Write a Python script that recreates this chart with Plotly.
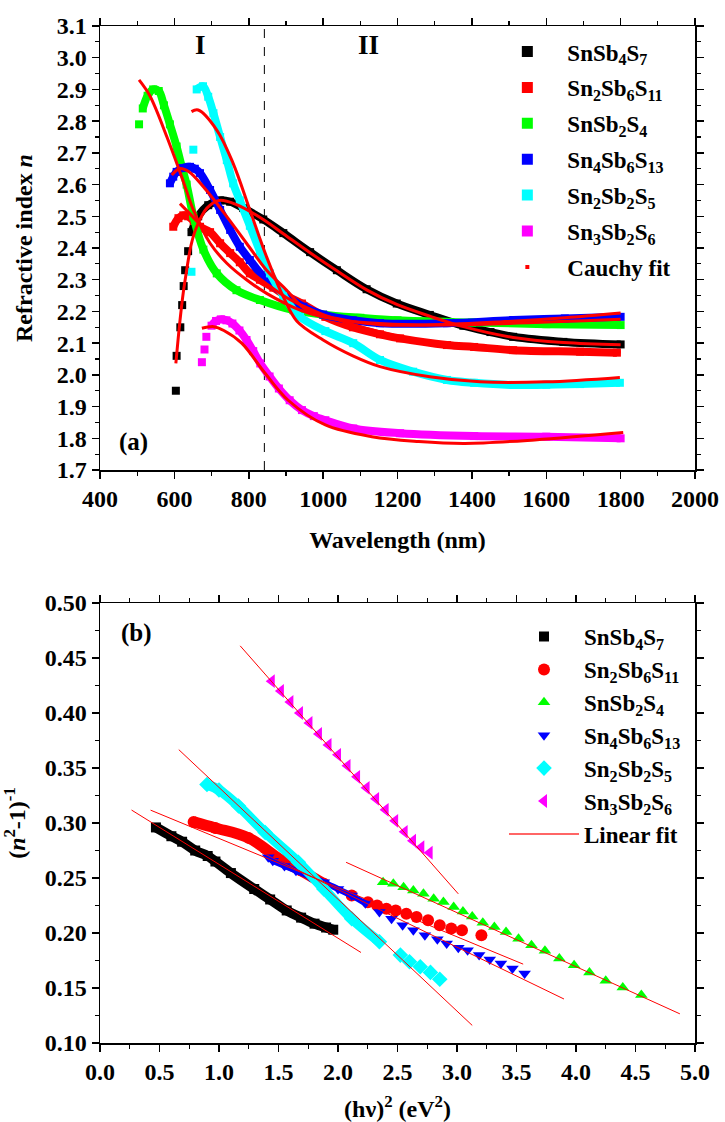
import plotly.graph_objects as go

FONT = "Liberation Serif"

# ---------------- panel (a): refractive index vs wavelength ----------------
NAMES = ["SnSb<sub>4</sub>S<sub>7</sub>",
         "Sn<sub>2</sub>Sb<sub>6</sub>S<sub>11</sub>",
         "SnSb<sub>2</sub>S<sub>4</sub>",
         "Sn<sub>4</sub>Sb<sub>6</sub>S<sub>13</sub>",
         "Sn<sub>2</sub>Sb<sub>2</sub>S<sub>5</sub>",
         "Sn<sub>3</sub>Sb<sub>2</sub>S<sub>6</sub>"]
COLORS = ["#000000", "#ff0000", "#00ff00", "#0000ff", "#00ffff", "#ff00ff"]

wl_k = [604, 606, 616, 621, 625, 629, 637, 646, 664, 691, 723, 750, 785, 839, 893, 965, 1037, 1117, 1198, 1287, 1377, 1450, 1511, 1646, 1800]
n_k = [1.95, 2.06, 2.15, 2.22, 2.28, 2.33, 2.39, 2.45, 2.50, 2.535, 2.55, 2.546, 2.526, 2.49, 2.447, 2.387, 2.33, 2.27, 2.225, 2.189, 2.155, 2.135, 2.12, 2.104, 2.096]
wl_k_fit = [604, 615, 624, 633, 645, 660, 687, 720, 767, 839, 893, 965, 1037, 1117, 1198, 1287, 1377, 1511, 1646, 1800]
n_k_fit = [2.036, 2.17, 2.26, 2.33, 2.41, 2.467, 2.525, 2.55, 2.537, 2.49, 2.445, 2.385, 2.328, 2.268, 2.222, 2.185, 2.152, 2.118, 2.102, 2.095]

wl_r = [597, 611, 624, 637, 652, 669, 696, 723, 750, 776, 803, 830, 866, 900, 943, 1006, 1080, 1153, 1207, 1333, 1406, 1511, 1691, 1790]
n_r = [2.467, 2.494, 2.503, 2.50, 2.485, 2.467, 2.45, 2.415, 2.384, 2.355, 2.32, 2.30, 2.275, 2.25, 2.225, 2.183, 2.15, 2.128, 2.115, 2.094, 2.088, 2.078, 2.073, 2.07]
wl_r_fit = [615, 640, 680, 720, 760, 800, 850, 900, 950, 1000, 1100, 1200, 1300, 1400, 1600, 1800]
n_r_fit = [2.54, 2.51, 2.46, 2.41, 2.37, 2.33, 2.285, 2.245, 2.215, 2.19, 2.152, 2.122, 2.10, 2.088, 2.077, 2.072]

wl_g = [505, 515, 528, 543, 558, 572, 588, 606, 620, 633, 651, 678, 714, 767, 830, 920, 1000, 1100, 1200, 1400, 1600, 1800]
n_g = [2.79, 2.84, 2.88, 2.90, 2.895, 2.85, 2.79, 2.72, 2.656, 2.60, 2.50, 2.395, 2.32, 2.267, 2.236, 2.204, 2.19, 2.18, 2.172, 2.165, 2.16, 2.157]
wl_g_fit = [505, 534, 580, 624, 651, 696, 741, 794, 848, 938, 1000, 1100, 1300, 1500, 1800]
n_g_fit = [2.93, 2.88, 2.75, 2.61, 2.52, 2.415, 2.352, 2.30, 2.257, 2.204, 2.182, 2.166, 2.157, 2.162, 2.175]

wl_b = [588, 597, 606, 620, 642, 655, 669, 696, 723, 750, 776, 803, 839, 893, 947, 1000, 1080, 1153, 1333, 1511, 1650, 1800]
n_b = [2.604, 2.625, 2.64, 2.652, 2.656, 2.65, 2.636, 2.583, 2.52, 2.457, 2.404, 2.362, 2.31, 2.257, 2.215, 2.19, 2.172, 2.163, 2.163, 2.173, 2.178, 2.183]
wl_b_fit = [593, 606, 615, 640, 678, 741, 794, 848, 902, 956, 1050, 1153, 1300, 1475, 1650, 1800]
n_b_fit = [2.63, 2.645, 2.651, 2.64, 2.593, 2.499, 2.415, 2.33, 2.267, 2.204, 2.175, 2.158, 2.158, 2.167, 2.18, 2.195]

wl_c = [646, 651, 660, 677, 691, 705, 723, 741, 758, 776, 803, 830, 857, 893, 938, 1006, 1081, 1153, 1242, 1333, 1406, 1511, 1600, 1691, 1798]
n_c = [2.325, 2.71, 2.90, 2.91, 2.877, 2.825, 2.75, 2.677, 2.604, 2.55, 2.47, 2.39, 2.32, 2.25, 2.183, 2.138, 2.10, 2.047, 2.01, 1.984, 1.975, 1.968, 1.969, 1.971, 1.975]
wl_c_fit = [646, 664, 714, 758, 803, 848, 893, 929, 1000, 1080, 1153, 1287, 1422, 1600, 1798]
n_c_fit = [2.83, 2.835, 2.772, 2.667, 2.52, 2.372, 2.246, 2.17, 2.11, 2.06, 2.026, 1.994, 1.978, 1.978, 1.992]

wl_m = [674, 681, 686, 700, 712, 725, 740, 756, 775, 794, 812, 831, 856, 881, 910, 943, 975, 1006, 1081, 1207, 1406, 1600, 1800]
n_m = [2.04, 2.08, 2.12, 2.155, 2.17, 2.175, 2.172, 2.162, 2.14, 2.11, 2.075, 2.036, 1.995, 1.957, 1.92, 1.889, 1.87, 1.857, 1.831, 1.816, 1.807, 1.805, 1.80]
wl_m_fit = [674, 706, 733, 781, 844, 906, 1006, 1131, 1257, 1381, 1569, 1807]
n_m_fit = [2.147, 2.152, 2.14, 2.10, 2.005, 1.92, 1.842, 1.805, 1.79, 1.784, 1.795, 1.818]

REGION_BOUNDARY_NM = 842

TICKS_WL = [400, 600, 800, 1000, 1200, 1400, 1600, 1800, 2000]
TICKS_N = [1.7, 1.8, 1.9, 2.0, 2.1, 2.2, 2.3, 2.4, 2.5, 2.6, 2.7, 2.8, 2.9, 3.0, 3.1]

# ---------------- panel (b): (n^2-1)^-1 vs (h nu)^2 ----------------
e2_k = [0.47, 0.60, 0.69, 0.80, 0.905, 0.97, 1.10, 1.296, 1.43, 1.569, 1.69, 1.803, 1.90, 1.96]
y_k = [0.296, 0.288, 0.283, 0.275, 0.270, 0.265, 0.2545, 0.240, 0.2305, 0.2205, 0.214, 0.2085, 0.205, 0.203]

e2_r = [0.787, 0.969, 1.248, 1.527, 1.686, 1.881, 2.115, 2.251, 2.329, 2.407, 2.485, 2.574, 2.660, 2.757, 2.855, 2.952, 3.042, 3.205]
y_r = [0.301, 0.2955, 0.2865, 0.266, 0.257, 0.2447, 0.234, 0.228, 0.225, 0.222, 0.2205, 0.2175, 0.2146, 0.2115, 0.207, 0.204, 0.2025, 0.198]

e2_g = [2.379, 2.465, 2.551, 2.633, 2.718, 2.804, 2.886, 2.972, 3.050, 3.128, 3.217, 3.314, 3.412, 3.517, 3.626, 3.739, 3.860, 3.984, 4.113, 4.250, 4.393, 4.549]
y_g = [0.2462, 0.2447, 0.2417, 0.2386, 0.2356, 0.2311, 0.2281, 0.2236, 0.2196, 0.2151, 0.2094, 0.2055, 0.2010, 0.1949, 0.1889, 0.1838, 0.1769, 0.1708, 0.1642, 0.1567, 0.1504, 0.1437]

e2_b = [1.414, 1.452, 1.55, 1.647, 1.76, 1.881, 2.0, 2.115, 2.23, 2.348, 2.45, 2.543, 2.633, 2.730, 2.835, 2.913, 3.011, 3.089, 3.186, 3.275, 3.369, 3.466, 3.568]
y_b = [0.2688, 0.2657, 0.261, 0.2567, 0.2515, 0.2462, 0.240, 0.234, 0.227, 0.2191, 0.213, 0.207, 0.2025, 0.198, 0.1943, 0.1904, 0.1865, 0.1844, 0.1799, 0.176, 0.1723, 0.1678, 0.1633]

e2_c = [0.899, 1.0, 1.164, 1.388, 1.667, 1.881, 2.115, 2.348, 2.524, 2.601, 2.691, 2.777, 2.855]
y_c = [0.335, 0.330, 0.3155, 0.2914, 0.2643, 0.240, 0.213, 0.192, 0.1799, 0.1739, 0.1693, 0.1642, 0.1579]

e2_m = [1.443, 1.52, 1.60, 1.68, 1.76, 1.84, 1.92, 2.00, 2.08, 2.16, 2.24, 2.32, 2.40, 2.48, 2.56, 2.63, 2.70, 2.77]
y_m = [0.429, 0.420, 0.410, 0.400, 0.391, 0.381, 0.371, 0.362, 0.352, 0.342, 0.332, 0.322, 0.312, 0.302, 0.292, 0.284, 0.278, 0.273]

# linear-fit line end points
fit_e2_k = [0.265, 2.193]; fit_y_k = [0.3118, 0.1823]
fit_e2_r = [0.425, 3.556]; fit_y_r = [0.3117, 0.1717]
fit_e2_g = [2.068, 4.873]; fit_y_g = [0.2643, 0.1265]
fit_e2_b = [1.35, 3.899]; fit_y_b = [0.2736, 0.140]
fit_e2_c = [0.662, 3.128]; fit_y_c = [0.3667, 0.116]
fit_e2_m = [1.178, 3.011]; fit_y_m = [0.4611, 0.2356]

TICKS_E2 = [0.0, 0.5, 1.0, 1.5, 2.0, 2.5, 3.0, 3.5, 4.0, 4.5, 5.0]
TICKS_Y2 = [0.10, 0.15, 0.20, 0.25, 0.30, 0.35, 0.40, 0.45, 0.50]

fig = go.Figure()

# ---- panel (a) data bands ----
series_a = [(wl_k, n_k, 7), (wl_r, n_r, 0), (wl_g, n_g, 1), (wl_b, n_b, 0), (wl_c, n_c, 2), (wl_m, n_m, 3)]
for (x, y, dense), col in zip(series_a, COLORS):
    fig.add_trace(go.Scatter(x=x[dense:], y=y[dense:], mode="lines", line=dict(color=col, width=8, shape="spline"),
                             showlegend=False, hoverinfo="skip", xaxis="x", yaxis="y"))
    fig.add_trace(go.Scatter(x=x, y=y, mode="markers", marker=dict(symbol="square", size=8, color=col),
                             showlegend=False, xaxis="x", yaxis="y"))
fits_a = [(wl_k_fit, n_k_fit), (wl_r_fit, n_r_fit), (wl_g_fit, n_g_fit), (wl_b_fit, n_b_fit), (wl_c_fit, n_c_fit), (wl_m_fit, n_m_fit)]
for x, y in fits_a:
    fig.add_trace(go.Scatter(x=x, y=y, mode="lines", line=dict(color="#ff0000", width=3, shape="spline"),
                             showlegend=False, xaxis="x", yaxis="y"))

# ---- panel (b) data ----
SYMBOLS_B = ["square", "circle", "triangle-up", "triangle-down", "diamond", "triangle-left"]
SIZES_B = [10, 12, 11, 11, 12, 12]
series_b = [(e2_k, y_k, 14, 10), (e2_r, y_r, 6, 11), (e2_g, y_g, 0, 0), (e2_b, y_b, 9, 6), (e2_c, y_c, 8, 10), (e2_m, y_m, 0, 0)]
for (x, y, dense, lw), col, sym, sz in zip(series_b, COLORS, SYMBOLS_B, SIZES_B):
    if dense > 1:
        fig.add_trace(go.Scatter(x=x[:dense], y=y[:dense], mode="lines", line=dict(color=col, width=lw, shape="spline"),
                                 showlegend=False, hoverinfo="skip", xaxis="x2", yaxis="y2"))
    fig.add_trace(go.Scatter(x=x, y=y, mode="markers", marker=dict(symbol=sym, size=sz, color=col),
                             showlegend=False, xaxis="x2", yaxis="y2"))
fits_b = [(fit_e2_k, fit_y_k), (fit_e2_r, fit_y_r), (fit_e2_g, fit_y_g), (fit_e2_b, fit_y_b), (fit_e2_c, fit_y_c), (fit_e2_m, fit_y_m)]
for x, y in fits_b:
    fig.add_trace(go.Scatter(x=x, y=y, mode="lines", line=dict(color="#ff0000", width=1),
                             showlegend=False, xaxis="x2", yaxis="y2"))

# ---- legend entries ----
for i, (nm, col) in enumerate(zip(NAMES, COLORS)):
    fig.add_trace(go.Scatter(x=[None], y=[None], mode="markers", name=nm,
                             marker=dict(symbol="square", size=11, color=col),
                             legend="legend", legendgroup="a%d" % i, xaxis="x", yaxis="y"))
fig.add_trace(go.Scatter(x=[None], y=[None], mode="markers", name="Cauchy fit",
                         marker=dict(symbol="square", size=4, color="#ff0000"),
                         legend="legend", legendgroup="a6", xaxis="x", yaxis="y"))
for i, (nm, col, sym, sz) in enumerate(zip(NAMES, COLORS, SYMBOLS_B, SIZES_B)):
    fig.add_trace(go.Scatter(x=[None], y=[None], mode="markers", name=nm,
                             marker=dict(symbol=sym, size=sz, color=col),
                             legend="legend2", legendgroup="b%d" % i, xaxis="x2", yaxis="y2"))
fig.add_trace(go.Scatter(x=[None], y=[None], mode="lines", name="Linear fit",
                         line=dict(color="#ff6666", width=2),
                         legend="legend2", legendgroup="b6", xaxis="x2", yaxis="y2"))


def bold(vals, fmt):
    return ["<b>" + fmt.format(v) + "</b>" for v in vals]


tickfont = dict(family=FONT, size=24, color="black", weight="bold")
titlefont = dict(family=FONT, size=24, color="black", weight="bold")
common = dict(showline=True, linecolor="black", linewidth=1.5, mirror="allticks", ticks="outside",
              ticklen=7, tickwidth=1.5, tickcolor="black", showgrid=False, zeroline=False,
              tickfont=tickfont, automargin=False, tickmode="array")
minor_style = dict(ticks="outside", ticklen=4, tickwidth=1.2, tickcolor="black")

legend_font = dict(family=FONT, size=23, color="black", weight="bold")

fig.update_layout(
    width=725, height=1122,
    margin=dict(l=100, r=30, t=26, b=79),
    paper_bgcolor="white", plot_bgcolor="white",
    font=dict(family=FONT, color="black"),
    xaxis=dict(domain=[0, 1], anchor="y", range=[400, 2000],
               tickvals=TICKS_WL, ticktext=bold(TICKS_WL, "{:d}"),
               minor=dict(dtick=100, tick0=400, **minor_style),
               title=dict(text="<b>Wavelength (nm)</b>", font=titlefont, standoff=20), **common),
    yaxis=dict(domain=[0.5634, 1], anchor="x", range=[1.7, 3.1],
               tickvals=TICKS_N, ticktext=bold(TICKS_N, "{:.1f}"),
               minor=dict(dtick=0.05, tick0=1.7, **minor_style),
               title=dict(text="<b>Refractive index <i>n</i></b>", font=titlefont, standoff=17), **common),
    xaxis2=dict(domain=[0, 1], anchor="y2", range=[0, 5],
                tickvals=TICKS_E2, ticktext=bold(TICKS_E2, "{:.1f}"),
                minor=dict(dtick=0.25, tick0=0, **minor_style),
                title=dict(text="<b>(hν)<sup>2</sup> (eV<sup>2</sup>)</b>", font=titlefont, standoff=18), **common),
    yaxis2=dict(domain=[0, 0.4326], anchor="x2", range=[0.10, 0.50],
                tickvals=TICKS_Y2, ticktext=bold(TICKS_Y2, "{:.2f}"),
                minor=dict(dtick=0.025, tick0=0.10, **minor_style),
                title=dict(text="<b>(<i>n</i><sup>2</sup>-1)<sup>-1</sup></b>", font=titlefont, standoff=26), **common),
    legend=dict(x=0.651, y=0.996, xanchor="left", yanchor="top", bgcolor="rgba(0,0,0,0)",
                font=legend_font, tracegroupgap=3, itemwidth=70),
    legend2=dict(x=0.679, y=0.4208, xanchor="left", yanchor="top", bgcolor="rgba(0,0,0,0)",
                 font=legend_font, tracegroupgap=0, itemwidth=70),
    shapes=[dict(type="line", xref="x", yref="y", x0=REGION_BOUNDARY_NM, x1=REGION_BOUNDARY_NM, y0=1.7, y1=3.1,
                 line=dict(color="black", width=1, dash="dash"), layer="below")],
    annotations=[
        dict(text="<b>I</b>", x=669, y=3.04, xref="x", yref="y", showarrow=False,
             font=dict(family=FONT, size=27, color="black")),
        dict(text="<b>II</b>", x=1121, y=3.04, xref="x", yref="y", showarrow=False,
             font=dict(family=FONT, size=27, color="black")),
        dict(text="<b>(a)</b>", x=490, y=1.789, xref="x", yref="y", showarrow=False,
             font=dict(family=FONT, size=25, color="black")),
        dict(text="<b>(b)</b>", x=0.31, y=0.4725, xref="x2", yref="y2", showarrow=False,
             font=dict(family=FONT, size=25, color="black")),
    ],
)

fig.write_html("out.html",
               config={"displayModeBar": False, "staticPlot": True},
               post_script="document.body.style.margin='0px';document.body.style.padding='0px';"
                           "document.documentElement.style.overflow='hidden';")
